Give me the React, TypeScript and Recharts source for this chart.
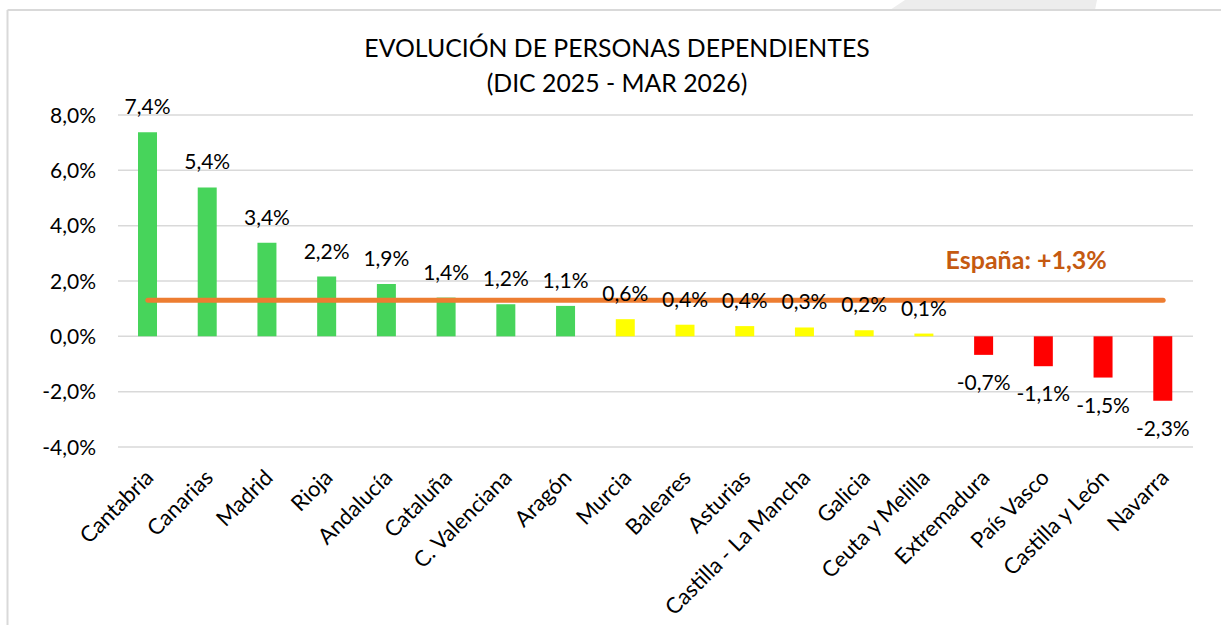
import React from 'react';
import {
  ComposedChart,
  Bar,
  Cell,
  XAxis,
  YAxis,
  CartesianGrid,
  ReferenceLine,
  LabelList,
} from 'recharts';

const CATEGORIES = [
  'Cantabria',
  'Canarias',
  'Madrid',
  'Rioja',
  'Andalucía',
  'Cataluña',
  'C. Valenciana',
  'Aragón',
  'Murcia',
  'Baleares',
  'Asturias',
  'Castilla - La Mancha',
  'Galicia',
  'Ceuta y Melilla',
  'Extremadura',
  'País Vasco',
  'Castilla y León',
  'Navarra',
];

const VALUES = [
  7.38, 5.38, 3.38, 2.16, 1.89, 1.4, 1.16, 1.1, 0.62, 0.42, 0.37, 0.32, 0.22,
  0.1, -0.67, -1.08, -1.49, -2.33,
];

const Y_TICKS = [-4, -2, 0, 2, 4, 6, 8];
const ESPANA = 1.3;
const TITLE_LINES = ['EVOLUCIÓN DE PERSONAS DEPENDIENTES', '(DIC 2025 - MAR 2026)'];
const ESPANA_LABEL = 'España: +1,3%';

const FONT = 'Lato, "Open Sans", sans-serif';
const GREEN = '#47D45B';
const YELLOW = '#FFFF00';
const RED = '#FF0000';
const ORANGE = '#ED7D31';
const ORANGE_TEXT = '#C55A11';
const GRID = '#D9D9D9';

const data = CATEGORIES.map((name, i) => ({ name, value: VALUES[i] }));

const fmt = (v: number) => v.toFixed(1).replace('.', ',') + '%';

const colorFor = (v: number) => (v >= 1 ? GREEN : v > 0 ? YELLOW : RED);

const YTick = (props: any) => {
  const { y, payload } = props;
  return (
    <text
      x={96}
      y={y + 7.5}
      textAnchor="end"
      fontFamily={FONT}
      fontSize={21}
      fill="#000"
    >
      {fmt(payload.value)}
    </text>
  );
};

const XTick = (props: any) => {
  const { x, y, payload } = props;
  return (
    <g transform={`translate(${x + 7},${y + 32})`}>
      <text
        x={0}
        y={0}
        textAnchor="end"
        transform="rotate(-45)"
        fontFamily={FONT}
        fontSize={22}
        fill="#000"
      >
        {payload.value}
      </text>
    </g>
  );
};

const BarLabel = (props: any) => {
  const { x, y, width, height, value } = props;
  const top = Math.min(y, y + height);
  const bottom = Math.max(y, y + height);
  const cx = x + width / 2;
  const ty = value >= 0 ? top - 18 : bottom + 35;
  return (
    <text
      x={cx}
      y={ty}
      textAnchor="middle"
      fontFamily={FONT}
      fontSize={21}
      fill="#000"
    >
      {fmt(value)}
    </text>
  );
};

const EspanaLabel = (props: any) => {
  const vb = props.viewBox || {};
  const xEnd = (vb.x || 0) + (vb.width || 0);
  return (
    <text
      x={xEnd - 137}
      y={(vb.y || 0) - 31}
      textAnchor="middle"
      fontFamily={FONT}
      fontSize={25}
      fontWeight={700}
      fill={ORANGE_TEXT}
    >
      {ESPANA_LABEL}
    </text>
  );
};

export default function App() {
  return (
    <div
      style={{
        position: 'absolute',
        left: 0,
        top: 0,
        width: 1221,
        height: 625,
        background: '#fff',
        overflow: 'hidden',
      }}
    >
      <svg
        width={1221}
        height={625}
        style={{ position: 'absolute', left: 0, top: 0 }}
      >
        <polygon points="905,0 1097,0 1095,10 890,10" fill="#EDEDED" />
        <line x1={7.5} y1={10} x2={7.5} y2={625} stroke={GRID} strokeWidth={2} />
        <line x1={7.5} y1={10} x2={1221} y2={10} stroke={GRID} strokeWidth={2} />
        <text
          x={617}
          y={57}
          textAnchor="middle"
          fontFamily={FONT}
          fontSize={24.8}
          fill="#000"
        >
          {TITLE_LINES[0]}
        </text>
        <text
          x={617}
          y={92}
          textAnchor="middle"
          fontFamily={FONT}
          fontSize={24.8}
          fill="#000"
        >
          {TITLE_LINES[1]}
        </text>
      </svg>
      <div style={{ position: 'absolute', left: 0, top: 0 }}>
        <ComposedChart
          width={1221}
          height={625}
          data={data}
          margin={{ top: 115, right: 28, bottom: 0, left: 0 }}
          barCategoryGap={0}
        >
          <CartesianGrid
            vertical={false}
            stroke={GRID}
            strokeWidth={1.5}
          />
          <XAxis
            dataKey="name"
            interval={0}
            axisLine={false}
            tickLine={false}
            tickSize={0}
            tickMargin={0}
            height={178}
            tick={<XTick />}
          />
          <YAxis
            domain={[-4, 8]}
            ticks={Y_TICKS}
            axisLine={false}
            tickLine={false}
            width={118}
            tick={<YTick />}
            allowDataOverflow
          />
          <Bar dataKey="value" barSize={19} isAnimationActive={false}>
            {data.map((d, i) => (
              <Cell key={i} fill={colorFor(d.value)} />
            ))}
            <LabelList dataKey="value" content={<BarLabel />} />
          </Bar>
          <ReferenceLine
            segment={[
              { x: CATEGORIES[0], y: ESPANA },
              { x: CATEGORIES[CATEGORIES.length - 1], y: ESPANA },
            ]}
            stroke={ORANGE}
            strokeWidth={5}
            strokeLinecap="round"
            label={<EspanaLabel />}
          />
        </ComposedChart>
      </div>
    </div>
  );
}
